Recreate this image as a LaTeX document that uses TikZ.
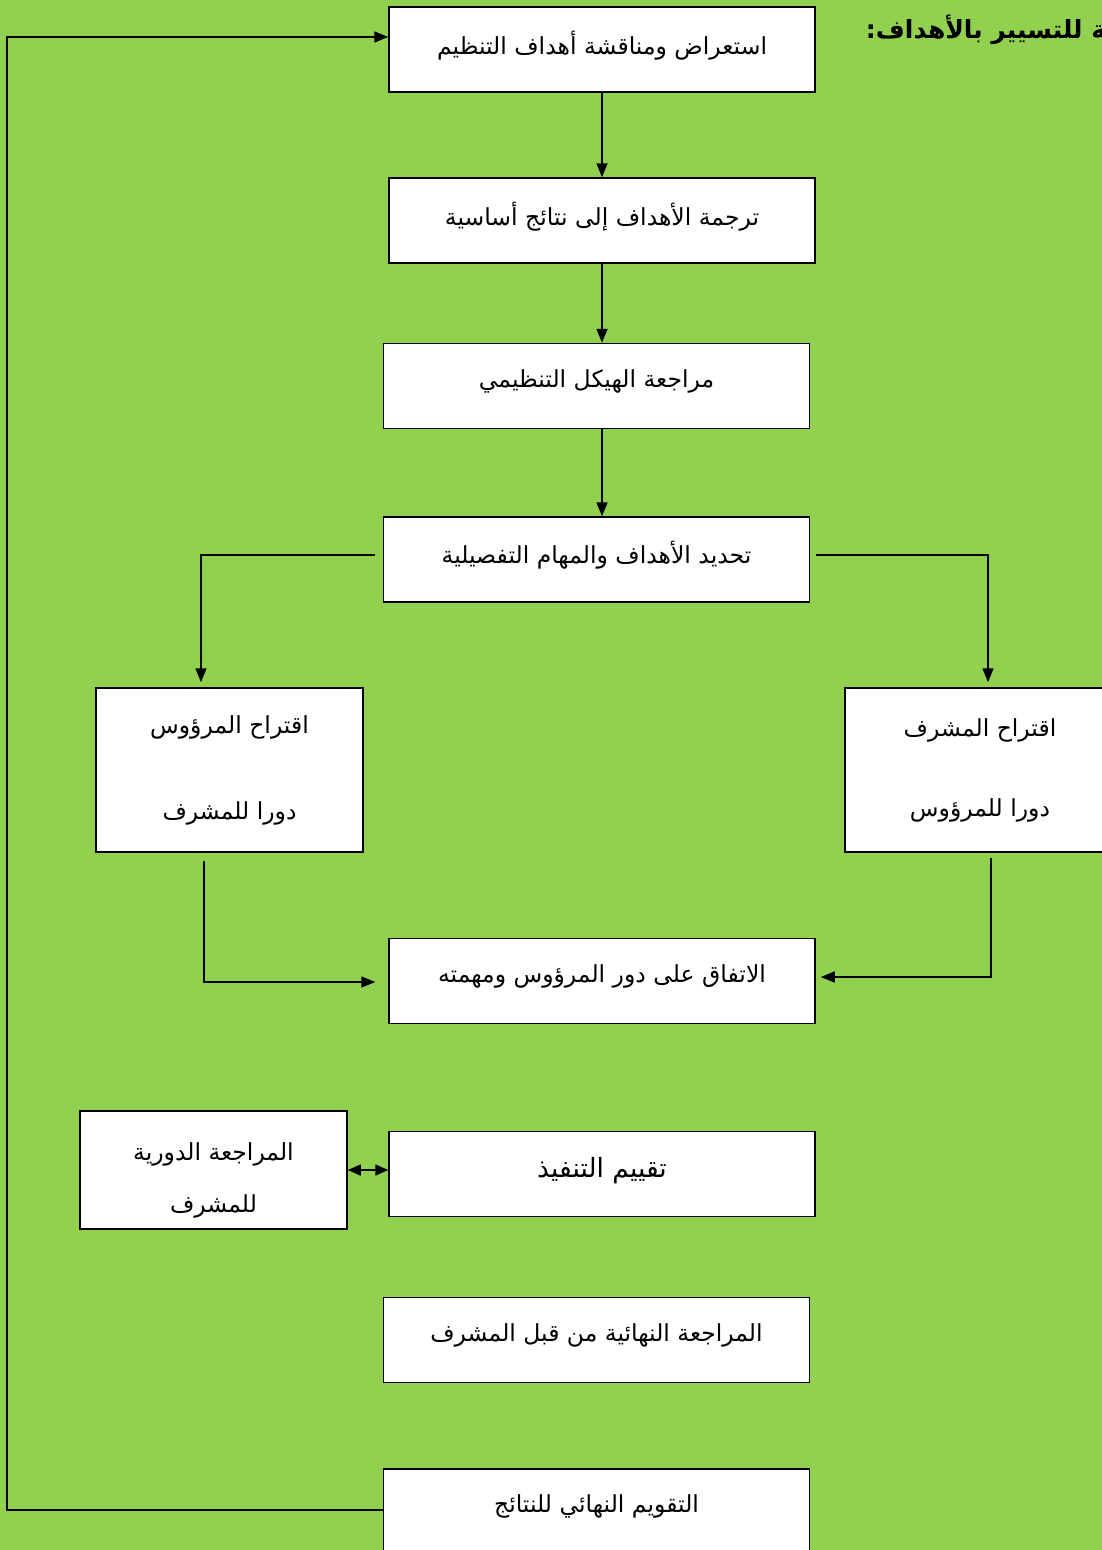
\documentclass[tikz,border=0pt]{standalone}
\usepackage{fontspec}
\usetikzlibrary{arrows.meta}
\TeXXeTstate=1
\newfontfamily\arabicfont[Script=Arabic]{DejaVu Sans}
\definecolor{leafgreen}{HTML}{92D050}
\tikzset{
  box/.style={draw, fill=white, line width=1.5pt, inner sep=0pt, align=center,
    font=\arabicfont\fontsize{23.5}{28}\selectfont},
  wide/.style={box, minimum width=426pt, minimum height=85pt, text depth=14pt},
  side/.style={box, minimum width=267pt},
  link/.style={line width=1.5pt, -{Triangle[length=14pt,width=11pt]}},
  dlink/.style={line width=1.5pt, {Triangle[length=13pt,width=11pt]}-{Triangle[length=13pt,width=11pt]}},
}
\begin{document}
\begin{tikzpicture}[x=1pt, y=-1pt]
  \clip (0,0) rectangle (1102,1550);
  \fill[leafgreen] (0,0) rectangle (1102,1550);

  \node[font=\arabicfont\bfseries\fontsize{25}{30}\selectfont, anchor=east] (T) at (1110,30)
    {\beginR ^^^^200dة للتسيير بالأهداف:\endR};

  \node[wide] (A) at (602,49.5) {\beginR استعراض ومناقشة أهداف التنظيم\endR};
  \node[wide] (B) at (602,220.5) {\beginR ترجمة الأهداف إلى نتائج أساسية\endR};
  \node[wide] (C) at (596.5,386) {\beginR مراجعة الهيكل التنظيمي\endR};
  \node[wide] (D) at (596.5,559.5) {\beginR تحديد الأهداف والمهام التفصيلية\endR};

  \node[side, minimum height=164pt] (E) at (229.5,770)
    {\beginR اقتراح المرؤوس\endR\\[58pt]\beginR دورا للمشرف\endR};
  \node[side, minimum width=270pt, minimum height=164pt] (F) at (980,770)
    {\beginR اقتراح المشرف\endR\\[52pt]\beginR دورا للمرؤوس\endR};

  \node[wide] (G) at (602,981) {\beginR الاتفاق على دور المرؤوس ومهمته\endR};

  \node[side, minimum height=118pt] (H) at (213.5,1170)
    {\rule{0pt}{38pt}\beginR المراجعة الدورية\endR\\[24pt]\beginR للمشرف\endR};
  \node[wide, font=\arabicfont\fontsize{26.5}{32}\selectfont] (I) at (602,1174) {\beginR تقييم التنفيذ\endR};

  \node[wide] (J) at (596.5,1340) {\beginR المراجعة النهائية من قبل المشرف\endR};
  \node[wide, anchor=north, minimum height=0pt, inner ysep=0pt, text height=44pt, text depth=80pt] (K)
    at (596.5,1468) {\beginR التقويم النهائي للنتائج\endR};

  % free ends of the bent connectors
  \coordinate (a1) at ([yshift=12.5pt]A.west);
  \coordinate (lp) at (7,37);
  \coordinate (k1) at ([yshift=-42pt]K.north west);
  \coordinate (d1) at ([xshift=-8pt,yshift=4.5pt]D.west);
  \coordinate (d2) at ([xshift=6pt,yshift=4.5pt]D.east);
  \coordinate (e1) at ([xshift=-28.5pt]E.north);
  \coordinate (f1) at ([xshift=8pt]F.north);
  \coordinate (e2) at ([xshift=-25.5pt,yshift=-8pt]E.south);
  \coordinate (f2) at ([xshift=11pt,yshift=-5pt]F.south);
  \coordinate (g1) at ([xshift=-13pt,yshift=-1pt]G.west);
  \coordinate (g2) at ([xshift=5pt,yshift=4pt]G.east);

  \draw[link] (A) -- (B);
  \draw[link] (B) -- (B |- C.north);
  \draw[link] (C.south -| B) -- (D.north -| B);
  \draw[link, shorten >=5pt] (d1) -| (e1);
  \draw[link, shorten >=5pt] (d2) -| (f1);
  \draw[link] (e2) |- (g1);
  \draw[link] (f2) |- (g2);
  \draw[dlink] (H.east) -- (H.east -| I.west);
  \draw[link] (k1) -| (lp) -- (a1);
\end{tikzpicture}
\end{document}
